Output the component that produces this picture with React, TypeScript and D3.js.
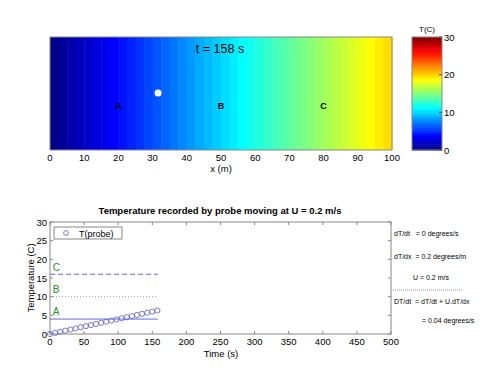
import React from 'react';
import * as d3 from 'd3';

// field: T = 0.2 * x along the channel
const fieldX = d3.range(0, 100, 2.5);
const fieldT = fieldX.map((x) => 0.2 * (x + 1.25));
const topTicks = [0, 10, 20, 30, 40, 50, 60, 70, 80, 90, 100];
const barTicks = [0, 10, 20, 30];
const points = [
  { name: 'A', x: 20, T: 4, dash: '' },
  { name: 'B', x: 50, T: 10, dash: '1,2' },
  { name: 'C', x: 80, T: 16, dash: '5,3' },
];
const probeTime = 158;
const probeX = 31.6;

const sampleTimes = [
  0, 7.5, 15, 22.5, 30, 37.5, 45, 52.5, 60, 67.5, 75, 82.5, 90, 97.5, 105, 112.5, 120,
  127.5, 135, 142.5, 150, 157.5,
];
const sampleTemps = [
  0, 0.3, 0.6, 0.9, 1.2, 1.5, 1.8, 2.1, 2.4, 2.7, 3.0, 3.3, 3.6, 3.9, 4.2, 4.5, 4.8, 5.1,
  5.4, 5.7, 6.0, 6.3,
];
const timeTicks = [0, 50, 100, 150, 200, 250, 300, 350, 400, 450, 500];
const tempTicks = [0, 5, 10, 15, 20, 25, 30];

const notes = [
  { text: 'dT/dt   = 0 degrees/s', x: 394, y: 236 },
  { text: 'dT/dx  = 0.2 degrees/m', x: 394, y: 259 },
  { text: 'U = 0.2 m/s', x: 413, y: 280 },
  { text: 'DT/dt  = dT/dt + U.dT/dx', x: 394, y: 304 },
  { text: '= 0.04 degrees/s', x: 422, y: 323 },
];

const jet = (v: number) => {
  const c = (a: number) => Math.max(0, Math.min(1, a)) * 255;
  return d3.rgb(c(1.5 - Math.abs(4 * v - 3)), c(1.5 - Math.abs(4 * v - 2)), c(1.5 - Math.abs(4 * v - 1))).toString();
};

const font = 'Liberation Sans, Arial, sans-serif';

export default function App() {
  // top panel
  const x = d3.scaleLinear().domain([0, 100]).range([50, 392]);
  const yTop = [37, 150];
  const cb = d3.scaleLinear().domain([0, 30]).range([150, 37]);
  const color = (t: number) => jet(t / 30);

  // bottom panel
  const tx = d3.scaleLinear().domain([0, 500]).range([50, 391]);
  const ty = d3.scaleLinear().domain([0, 30]).range([334, 222]);

  return (
    <svg width={500} height={375} style={{ position: 'absolute', left: 0, top: 0, fontFamily: font }}>
      <rect width={500} height={375} fill='#fff' />
      {fieldX.map((fx, i) => (
        <rect
          key={i}
          x={x(fx)}
          y={yTop[0]}
          width={x(fx + 2.5) - x(fx) + 0.5}
          height={yTop[1] - yTop[0]}
          fill={color(fieldT[i])}
        />
      ))}
      <rect x={50} y={yTop[0]} width={342} height={yTop[1] - yTop[0]} fill='none' stroke='#888' />
      <text x={220} y={53} fontSize={12.5} textAnchor='middle'>
        t = {probeTime} s
      </text>
      <circle cx={x(probeX)} cy={93} r={3.5} fill='#fff' />
      {points.map((p) => (
        <text key={p.name} x={x(p.x)} y={109} fontSize={9} fontWeight='bold' textAnchor='middle'>
          {p.name}
        </text>
      ))}
      {topTicks.map((t) => (
        <text key={t} x={x(t)} y={161} fontSize={9.5} textAnchor='middle'>
          {t}
        </text>
      ))}
      <text x={221} y={172} fontSize={9.5} textAnchor='middle'>
        x (m)
      </text>

      {/* colorbar */}
      {d3.range(0, 30, 0.5).map((t) => (
        <rect key={t} x={412} y={cb(t + 0.5)} width={30} height={cb(t) - cb(t + 0.5) + 0.5} fill={color(t + 0.25)} />
      ))}
      <rect x={412} y={37} width={30} height={113} fill='none' stroke='#888' />
      {barTicks.map((t) => (
        <g key={t}>
          <line x1={439} x2={442} y1={cb(t)} y2={cb(t)} stroke='#555' />
          <text x={444} y={cb(t) + 3.5} fontSize={9.5}>
            {t}
          </text>
        </g>
      ))}
      <text x={427} y={32} fontSize={8} textAnchor='middle'>
        T(C)
      </text>

      {/* bottom panel */}
      <text x={220} y={214} fontSize={9.5} fontWeight='bold' textAnchor='middle'>
        Temperature recorded by probe moving at U = 0.2 m/s
      </text>
      <rect x={50} y={222} width={341} height={112} fill='#fff' stroke='#888' />
      {timeTicks.map((t) => (
        <g key={t}>
          <line x1={tx(t)} x2={tx(t)} y1={334} y2={331} stroke='#888' />
          <line x1={tx(t)} x2={tx(t)} y1={222} y2={225} stroke='#888' />
          <text x={tx(t)} y={345} fontSize={9.5} textAnchor='middle'>
            {t}
          </text>
        </g>
      ))}
      {tempTicks.map((t) => (
        <g key={t}>
          <line x1={50} x2={53} y1={ty(t)} y2={ty(t)} stroke='#888' />
          <line x1={391} x2={388} y1={ty(t)} y2={ty(t)} stroke='#888' />
          <text x={47} y={ty(t) + 3.5} fontSize={9.5} textAnchor='end'>
            {t}
          </text>
        </g>
      ))}
      <text x={221} y={357} fontSize={9.5} textAnchor='middle'>
        Time (s)
      </text>
      <text transform={`translate(34,${ty(15)}) rotate(-90)`} fontSize={9.5} textAnchor='middle'>
        Temperature (C)
      </text>
      {points.map((p) => (
        <g key={p.name}>
          <line
            x1={tx(0)}
            x2={tx(probeTime)}
            y1={ty(p.T)}
            y2={ty(p.T)}
            stroke={p.name === 'B' ? '#999' : '#6666dd'}
            strokeDasharray={p.dash}
          />
          <text x={tx(4)} y={ty(p.T + 1)} fontSize={10} fill='#2a8a2a'>
            {p.name}
          </text>
        </g>
      ))}
      {sampleTimes.map((t, i) => (
        <circle key={t} cx={tx(t)} cy={ty(sampleTemps[i])} r={2.6} fill='none' stroke='#6a6ad0' strokeWidth={0.9} />
      ))}
      <rect x={54} y={227} width={68} height={12} fill='#fff' stroke='#888' />
      <circle cx={66} cy={233} r={2.4} fill='none' stroke='#6a6ad0' strokeWidth={0.9} />
      <text x={79} y={236.5} fontSize={9}>
        T(probe)
      </text>

      {notes.map((n) => (
        <text key={n.text} x={n.x} y={n.y} fontSize={7} style={{ whiteSpace: 'pre' }}>
          {n.text}
        </text>
      ))}
      <line x1={393} x2={462} y1={290} y2={290} stroke='#777' strokeDasharray='1,1' strokeWidth={0.8} />
    </svg>
  );
}
